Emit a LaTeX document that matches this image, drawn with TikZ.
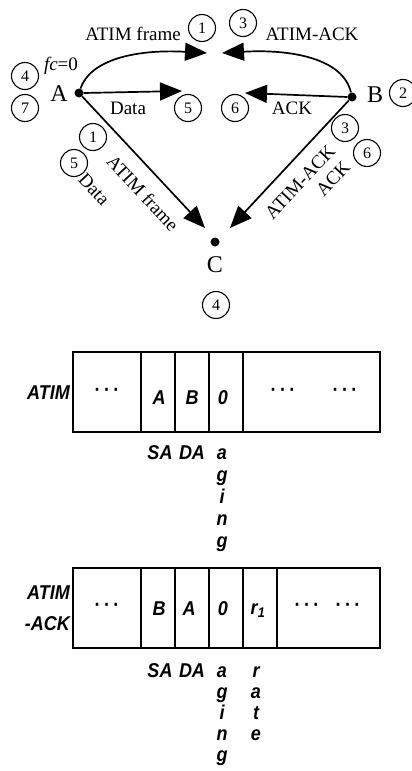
\documentclass[tikz,border=0pt]{standalone}
\usepackage{fontspec}
\setmainfont{Liberation Serif}
\newfontfamily\fieldfont[FakeStretch=0.9]{Liberation Sans}
\usetikzlibrary{arrows.meta}

\tikzset{
  dot/.style={circle, fill, inner sep=0pt, minimum size=9pt},
  stepnum/.style={draw, circle, line width=1.1pt, inner sep=0pt, minimum size=27pt, font=\fontsize{16}{16}\selectfont},
  lbl/.style={font=\fontsize{19}{21}\selectfont, inner sep=0pt},
  big/.style={font=\fontsize{24}{26}\selectfont, inner sep=0pt},
  arr/.style={line width=1.7pt, -{Triangle[length=22pt,width=18pt]}},
  fld/.style={font=\fieldfont\bfseries\itshape\fontsize{20}{21}\selectfont, inner sep=0pt, anchor=base},
  dts/.style={font=\fieldfont\bfseries\fontsize{20}{21}\selectfont, inner sep=0pt},
  box/.style={line width=1.5pt}
}
\newcommand{\fdots}{\textperiodcentered\,\textperiodcentered\,\textperiodcentered}

\begin{document}
\begin{tikzpicture}[x=1pt, y=-1pt]
    \useasboundingbox (0,0) rectangle (412,771);

    % Stations
    \node[dot] (A) at (79,93) {};
    \node[dot] (B) at (352,97) {};
    \node[dot] (C) at (215,242) {};
    \node[big] (labA) at (59,94) {A};
    \node[big] (labB) at (375,95) {B};
    \node[big] (labC) at (215,265) {C};
    \node[lbl] (fc) at (61,66) {\textit{fc}=0};

    % Arrow ends
    \coordinate (tA) at (207,53);
    \coordinate (tB) at (222,53);
    \coordinate (tData) at (182,91);
    \coordinate (tAck) at (245,93);
    \coordinate (tAC) at (205,228);
    \coordinate (tBC) at (230,228);

    % Arrows
    \draw[arr] (A) .. controls (90,60) and (135,49) .. (tA);
    \draw[arr] (B) .. controls (343,58) and (290,49) .. (tB);
    \draw[arr] (A.east) -- (tData);
    \draw[arr] (B.west) -- (tAck);
    \draw[arr] (A) -- (tAC);
    \draw[arr] (B) -- (tBC);

    % Labels
    \node[lbl] (l1) at (133,34) {ATIM frame};
    \node[lbl] (l2) at (312,34) {ATIM-ACK};
    \node[lbl] (l3) at (128,108) {Data};
    \node[lbl] (l4) at (292,108) {ACK};
    \node[lbl, rotate=-47] (l5) at (143,193) {ATIM frame};
    \node[lbl, rotate=-47] (l6) at (94,189) {Data};
    \node[lbl, rotate=47] (l7) at (300,182) {ATIM-ACK};
    \node[lbl, rotate=47] (l8) at (333,179) {ACK};

    % Steps
    \node[stepnum] (s1a) at (202,28) {1};
    \node[stepnum] (s3a) at (243,23) {3};
    \node[stepnum] (s4a) at (25,76) {4};
    \node[stepnum] (s7) at (25,108) {7};
    \node[stepnum] (s5a) at (188,108) {5};
    \node[stepnum] (s6a) at (235,108) {6};
    \node[stepnum] (s2) at (403,93) {2};
    \node[stepnum] (s1b) at (93,137) {1};
    \node[stepnum] (s5b) at (74,163) {5};
    \node[stepnum] (s3b) at (345,128) {3};
    \node[stepnum] (s6b) at (367,153) {6};
    \node[stepnum] (s4b) at (216,305) {4};

    % ATIM frame fields
    \draw[box] (73,352) rectangle (380,432);
    \foreach \xx in {141,175,209,243}
        \draw[box] (\xx,352) -- (\xx,432);
    \node[fld, anchor=base east] (f1) at (70,399) {ATIM};
    \node[dts] (f1d1) at (107,392) {\fdots};
    \node[fld] (f1sa) at (159,404) {A};
    \node[fld] (f1da) at (192,404) {B};
    \node[fld] (f1ag) at (223,404) {0};
    \node[dts] (f1d2) at (283,392) {\fdots};
    \node[dts] (f1d3) at (345,392) {\fdots};
    \node[fld] (f1lsa) at (160,459) {SA};
    \node[fld] (f1lda) at (192,459) {DA};
    \foreach \ch [count=\i] in {a,g,i,n,g}
        \node[fld] (f1g\i) at (222,459+22*\i-22) {\ch};

    % ATIM-ACK frame fields
    \draw[box] (73,568) rectangle (380,648);
    \foreach \xx in {141,175,209,243,277}
        \draw[box] (\xx,568) -- (\xx,648);
    \node[fld, anchor=base east] (f2a) at (70,599) {ATIM};
    \node[fld, anchor=base east] (f2b) at (70,630) {-ACK};
    \node[dts] (f2d1) at (107,607) {\fdots};
    \node[fld] (f2sa) at (159,615) {B};
    \node[fld] (f2da) at (189,615) {A};
    \node[fld] (f2ag) at (223,615) {0};
    \node[fld] (f2rt) at (258,614) {r\textsubscript{1}};
    \node[dts] (f2d2) at (307,607) {\fdots};
    \node[dts] (f2d3) at (348,607) {\fdots};
    \node[fld] (f2lsa) at (160,677) {SA};
    \node[fld] (f2lda) at (192,677) {DA};
    \foreach \ch [count=\i] in {a,g,i,n,g}
        \node[fld] (f2g\i) at (222,677+21*\i-21) {\ch};
    \foreach \ch [count=\i] in {r,a,t,e}
        \node[fld] (f2r\i) at (256,677+21*\i-21) {\ch};
\end{tikzpicture}
\end{document}
